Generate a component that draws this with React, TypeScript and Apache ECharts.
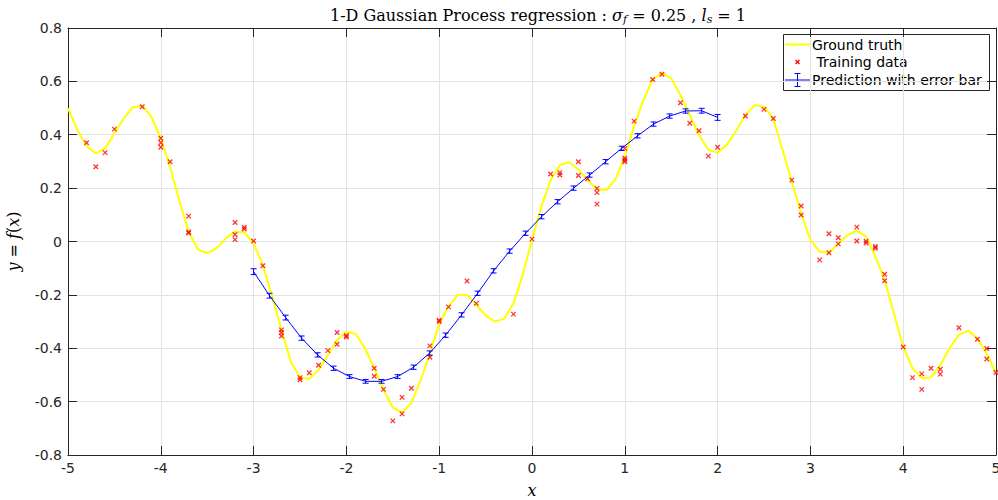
import React, { useEffect, useRef } from "react";
import * as echarts from "echarts";

// Ground truth sampled every 0.1 from -5 to 5
const gtY = [
  0.499, 0.418, 0.358, 0.330, 0.349, 0.405, 0.461, 0.503, 0.509, 0.467,
  0.386, 0.280, 0.152, 0.037, -0.029, -0.044, -0.026, 0.012, 0.037, 0.034,
  -0.007, -0.088, -0.207, -0.331, -0.450, -0.510, -0.515, -0.481, -0.425, -0.369,
  -0.338, -0.346, -0.400, -0.475, -0.556, -0.622, -0.640, -0.606, -0.519, -0.419,
  -0.309, -0.244, -0.200, -0.200, -0.238, -0.277, -0.300, -0.290, -0.232, -0.125,
  0.006, 0.130, 0.230, 0.287, 0.297, 0.270, 0.230, 0.195, 0.193, 0.233,
  0.318, 0.433, 0.530, 0.607, 0.632, 0.611, 0.549, 0.474, 0.399, 0.344,
  0.333, 0.363, 0.415, 0.474, 0.511, 0.505, 0.461, 0.343, 0.224, 0.106,
  0.006, -0.038, -0.042, -0.009, 0.024, 0.041, 0.018, -0.057, -0.144, -0.269,
  -0.394, -0.475, -0.512, -0.509, -0.463, -0.400, -0.350, -0.334, -0.363, -0.419,
  -0.494,
];
const gtX = gtY.map((_, i) => Math.round((-5 + i * 0.1) * 10) / 10);

const trainX = [
  -4.8, -4.7, -4.6, -4.5, -4.2, -4.0, -4.0, -4.0, -3.9, -3.7, -3.7, -3.7,
  -3.2, -3.2, -3.2, -3.1, -3.1, -3.0, -2.9, -2.7, -2.7, -2.7, -2.5, -2.5,
  -2.4, -2.3, -2.2, -2.1, -2.1, -2.0, -2.0, -1.7, -1.7, -1.6, -1.5, -1.4,
  -1.4, -1.3, -1.1, -1.1, -1.0, -1.0, -0.9, -0.7, -0.6, -0.2, 0.0, 0.2,
  0.3, 0.3, 0.5, 0.5, 0.6, 0.7, 0.7, 0.7, 1.0, 1.0, 1.0, 1.0,
  1.1, 1.3, 1.4, 1.6, 1.7, 1.8, 1.9, 2.0, 2.3, 2.5, 2.6, 2.8,
  2.9, 2.9, 3.1, 3.2, 3.2, 3.3, 3.3, 3.5, 3.5, 3.6, 3.6, 3.7,
  3.7, 3.8, 3.8, 4.0, 4.1, 4.2, 4.2, 4.3, 4.4, 4.4, 4.6, 4.8,
  4.9, 4.9, 5.0,
];
const trainY = [
  0.370, 0.280, 0.333, 0.421, 0.505, 0.387, 0.370, 0.353, 0.299, 0.095, 0.036, 0.032,
  0.071, 0.026, 0.007, 0.053, 0.047, 0.002, -0.091, -0.331, -0.341, -0.354, -0.510, -0.518,
  -0.492, -0.464, -0.409, -0.385, -0.341, -0.352, -0.358, -0.475, -0.505, -0.554, -0.672, -0.584,
  -0.646, -0.550, -0.391, -0.434, -0.295, -0.300, -0.245, -0.148, -0.232, -0.272, 0.009, 0.253,
  0.258, 0.249, 0.299, 0.247, 0.235, 0.199, 0.183, 0.140, 0.349, 0.312, 0.305, 0.299,
  0.451, 0.607, 0.627, 0.520, 0.443, 0.415, 0.320, 0.353, 0.470, 0.495, 0.461, 0.230,
  0.133, 0.099, -0.069, 0.029, -0.042, 0.014, -0.009, 0.054, 0.002, 0.001, -0.006, -0.019,
  -0.025, -0.123, -0.147, -0.395, -0.510, -0.496, -0.554, -0.475, -0.479, -0.497, -0.323, -0.366,
  -0.401, -0.440, -0.491,
];

const predX = [
  -3.0, -2.828, -2.655, -2.483, -2.31, -2.138, -1.966, -1.793, -1.621, -1.448,
  -1.276, -1.103, -0.931, -0.759, -0.586, -0.414, -0.241, -0.069, 0.103, 0.276,
  0.448, 0.621, 0.793, 0.966, 1.138, 1.31, 1.483, 1.655, 1.828, 2.0,
];
const predY = [
  -0.113, -0.203, -0.285, -0.362, -0.425, -0.475, -0.506, -0.524, -0.524, -0.506,
  -0.471, -0.418, -0.351, -0.275, -0.194, -0.110, -0.036, 0.031, 0.093, 0.149,
  0.200, 0.249, 0.299, 0.349, 0.396, 0.440, 0.470, 0.489, 0.490, 0.465,
];
const predErr = [
  0.011, 0.009, 0.009, 0.008, 0.008, 0.008, 0.007, 0.007, 0.007, 0.007,
  0.008, 0.008, 0.008, 0.008, 0.008, 0.008, 0.008, 0.008, 0.008, 0.008,
  0.008, 0.008, 0.008, 0.008, 0.008, 0.008, 0.008, 0.008, 0.009, 0.011,
];

const xTicks = [-5, -4, -3, -2, -1, 0, 1, 2, 3, 4, 5];
const yTickLabels = ["-0.8", "-0.6", "-0.4", "-0.2", "0", "0.2", "0.4", "0.6", "0.8"];

const AXIS = "#262626";
const GRIDC = "#e2e2e2";
const SANS = "DejaVu Sans";
const SERIF = "DejaVu Serif";
const XMARK = "path://M0,0L10,10M10,0L0,10";

export default function App() {
  const ref = useRef<HTMLDivElement>(null);
  useEffect(() => {
    if (!ref.current) return;
    const chart = echarts.init(ref.current, null, { renderer: "svg" });
    const fmtY = (v: number) => {
      const idx = Math.round((v + 0.8) / 0.2);
      return yTickLabels[idx] ?? String(v);
    };
    const baseX = {
      type: "value" as const,
      min: xTicks[0],
      max: xTicks[xTicks.length - 1],
      interval: 1,
      axisLine: { show: true, onZero: false, lineStyle: { color: AXIS, width: 1 } },
      axisTick: { show: true, inside: true, length: 9, lineStyle: { color: AXIS, width: 1 } },
    };
    const baseY = {
      type: "value" as const,
      min: -0.8,
      max: 0.8,
      interval: 0.2,
      axisLine: { show: true, onZero: false, lineStyle: { color: AXIS, width: 1 } },
      axisTick: { show: true, inside: true, length: 9, lineStyle: { color: AXIS, width: 1 } },
    };
    const errData = predX.map((x, i) => [x, predY[i] - predErr[i], predY[i] + predErr[i]]);

    // legend geometry
    const lx = 783, ly = 34, lw = 206, lh = 56;
    const sx1 = 785, sx2 = 810, sxc = 797.5, tx = 812;
    const r1 = 44.5, r2 = 62, r3 = 80;
    const legendText = (text: string, y: number) => ({
      type: "text",
      x: tx,
      y,
      style: { text, fontSize: 14, fontFamily: SANS, fill: "#000", verticalAlign: "middle", align: "left" },
    });

    chart.setOption({
      animation: false,
      backgroundColor: "#ffffff",
      title: {
        text: "1-D Gaussian Process regression : {i|σ}{sub|f} = 0.25 , {i|l}{sub|s} = 1",
        left: 533,
        textAlign: "center",
        top: 0,
        textStyle: {
          fontFamily: SERIF,
          fontSize: 16,
          fontWeight: "normal",
          color: "#000",
          lineHeight: 20,
          rich: {
            i: { fontFamily: SERIF, fontSize: 16, fontStyle: "italic", color: "#000", lineHeight: 20 },
            sub: { fontFamily: SERIF, fontSize: 11, fontStyle: "italic", color: "#000", lineHeight: 10, verticalAlign: "bottom" },
          },
        },
      },
      grid: { left: 68, right: 2, top: 28, bottom: 45, containLabel: false, outerBoundsMode: "none" },
      xAxis: [
        {
          ...baseX,
          position: "bottom",
          axisLabel: { show: true, fontFamily: SANS, fontSize: 14, color: AXIS, margin: 6 },
          splitLine: { show: true, lineStyle: { color: GRIDC, width: 1 } },
          name: "x",
          nameLocation: "middle",
          nameGap: 27,
          nameTextStyle: { fontFamily: SERIF, fontStyle: "italic", fontSize: 16, color: "#000" },
        },
        {
          ...baseX,
          position: "top",
          axisLabel: { show: false },
          splitLine: { show: false },
        },
      ],
      yAxis: [
        {
          ...baseY,
          position: "left",
          axisLabel: { show: true, fontFamily: SANS, fontSize: 14, color: AXIS, margin: 6, formatter: fmtY },
          splitLine: { show: true, lineStyle: { color: GRIDC, width: 1 } },
          name: "{i|y} = {i|f}({i|x})",
          nameLocation: "middle",
          nameRotate: 90,
          nameGap: 47,
          nameTextStyle: {
            fontFamily: SERIF,
            fontSize: 16,
            color: "#000",
            rich: { i: { fontFamily: SERIF, fontSize: 16, fontStyle: "italic", color: "#000" } },
          },
        },
        {
          ...baseY,
          position: "right",
          axisLabel: { show: false },
          splitLine: { show: false },
        },
      ],
      series: [
        {
          name: "Ground truth",
          type: "line",
          data: gtX.map((x, i) => [x, gtY[i]]),
          showSymbol: false,
          symbol: "none",
          lineStyle: { color: "#ffff00", width: 2 },
          itemStyle: { color: "#ffff00" },
          z: 2,
        },
        {
          name: "Training data",
          type: "scatter",
          data: trainX.map((x, i) => [x, trainY[i]]),
          symbol: XMARK,
          symbolSize: 4.5,
          itemStyle: { color: "transparent", borderColor: "#ff0000", borderWidth: 1.3 },
          z: 3,
        },
        {
          name: "Prediction with error bar",
          type: "line",
          data: predX.map((x, i) => [x, predY[i]]),
          showSymbol: false,
          symbol: "none",
          lineStyle: { color: "#0000ff", width: 1 },
          z: 4,
        },
        {
          name: "err",
          type: "custom",
          data: errData,
          encode: { x: 0, y: [1, 2] },
          z: 5,
          renderItem: (params: any, api: any) => {
            const x = api.value(0);
            const lo = api.coord([x, api.value(1)]);
            const hi = api.coord([x, api.value(2)]);
            const w = 3;
            const st = { stroke: "#0000ff", lineWidth: 1 };
            return {
              type: "group",
              children: [
                { type: "line", shape: { x1: hi[0], y1: hi[1], x2: lo[0], y2: lo[1] }, style: st },
                { type: "line", shape: { x1: hi[0] - w, y1: hi[1], x2: hi[0] + w, y2: hi[1] }, style: st },
                { type: "line", shape: { x1: lo[0] - w, y1: lo[1], x2: lo[0] + w, y2: lo[1] }, style: st },
              ],
            };
          },
        },
      ],
      graphic: [
        {
          type: "group",
          z: 100,
          children: [
            { type: "rect", shape: { x: lx + 0.5, y: ly + 0.5, width: lw, height: lh }, style: { fill: "#ffffff", stroke: AXIS, lineWidth: 1 } },
            { type: "line", shape: { x1: sx1, y1: r1, x2: sx2, y2: r1 }, style: { stroke: "#ffff00", lineWidth: 2 } },
            legendText("Ground truth", r1),
            { type: "line", shape: { x1: sxc - 2, y1: r2 - 2, x2: sxc + 2, y2: r2 + 2 }, style: { stroke: "#ff0000", lineWidth: 1.3 } },
            { type: "line", shape: { x1: sxc + 2, y1: r2 - 2, x2: sxc - 2, y2: r2 + 2 }, style: { stroke: "#ff0000", lineWidth: 1.3 } },
            legendText(" Training data", r2),
            { type: "line", shape: { x1: sx1, y1: r3, x2: sx2, y2: r3 }, style: { stroke: "#0000ff", lineWidth: 1 } },
            { type: "line", shape: { x1: sxc, y1: r3 - 6.5, x2: sxc, y2: r3 + 6.5 }, style: { stroke: "#0000ff", lineWidth: 1 } },
            { type: "line", shape: { x1: sxc - 3, y1: r3 - 6.5, x2: sxc + 3, y2: r3 - 6.5 }, style: { stroke: "#0000ff", lineWidth: 1 } },
            { type: "line", shape: { x1: sxc - 3, y1: r3 + 6.5, x2: sxc + 3, y2: r3 + 6.5 }, style: { stroke: "#0000ff", lineWidth: 1 } },
            legendText("Prediction with error bar", r3),
          ],
        },
      ],
    });
    return () => chart.dispose();
  }, []);
  return (
    <div
      ref={ref}
      style={{ position: "fixed", left: 0, top: 0, width: 998, height: 500, background: "#fff" }}
    />
  );
}
